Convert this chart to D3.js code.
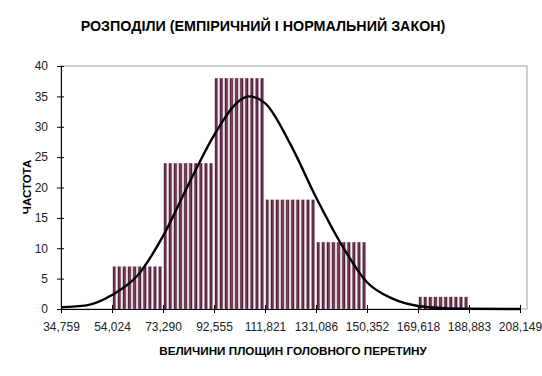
<!DOCTYPE html>
<html>
<head>
<meta charset="utf-8">
<script src="https://cdn.jsdelivr.net/npm/d3@7"></script>
<style>
  body { margin: 0; background: #fff; }
  svg { display: block; font-family: "Liberation Sans", Arial, sans-serif; }
</style>
</head>
<body>
<div id="chart"></div>
<script>
// bin edges (x axis ticks) and their printed labels
const binEdges = [34.759, 54.024, 73.290, 92.555, 111.821, 131.086, 150.352, 169.618, 188.883, 208.149];
const tickLabels = ["34,759", "54,024", "73,290", "92,555", "111,821", "131,086", "150,352", "169,618", "188,883", "208,149"];
// empirical frequencies per bin
const counts = [0, 7, 24, 38, 18, 11, 0, 2, 0];
// normal curve
const curveX = [34.759, 44.39, 54.024, 63.66, 73.29, 82.92, 92.555, 102.19, 105.6, 111.821, 121.45, 131.086, 140.72, 150.352, 159.99, 169.618, 179.25, 188.883, 208.149];
const curveY = [0.3, 0.6, 2.3, 5.5, 12, 20.5, 28.6, 34.3, 35.0, 33.9, 27.1, 18.4, 10.6, 4.4, 1.7, 0.5, 0.15, 0.05, 0];
const yTicks = [0, 5, 10, 15, 20, 25, 30, 35, 40];

const W = 542, H = 376;
const svg = d3.select("#chart").append("svg")
  .attr("width", W).attr("height", H);

let x = d3.scaleLinear().domain([binEdges[0], binEdges[binEdges.length - 1]]).range([61, 520]);
let y = d3.scaleLinear().domain([0, 40]).range([309, 66]);

// striped fill like the excel pattern
let defs = svg.append("defs");
let pat = defs.append("pattern")
  .attr("id", "stripes")
  .attr("patternUnits", "userSpaceOnUse")
  .attr("x", 61).attr("y", 0)
  .attr("width", 5.1).attr("height", 10);
pat.append("rect").attr("width", 5.1).attr("height", 10).attr("fill", "#fff");
pat.append("rect").attr("x", 0.6).attr("width", 3.1).attr("height", 10).attr("fill", "#4f1a38");
pat.append("rect").attr("x", 1.7).attr("width", 0.8).attr("height", 10).attr("fill", "#86445f");

// plot area border (gray)
svg.append("rect")
  .attr("x", x.range()[0]).attr("y", y(40))
  .attr("width", x.range()[1] - x.range()[0] + 7)
  .attr("height", y(0) - y(40))
  .attr("fill", "none").attr("stroke", "#a0a0a0").attr("stroke-width", 1);

// bars
let bins = counts.map((c, i) => ({ x0: binEdges[i], x1: binEdges[i + 1], c: c }));
svg.selectAll("rect.bar")
  .data(bins.filter(d => d.c > 0))
  .enter()
  .append("rect")
    .attr("class", "bar")
    .attr("x", d => x(d.x0) + 0.5)
    .attr("width", d => x(d.x1) - x(d.x0) - 1)
    .attr("y", d => y(d.c))
    .attr("height", d => y(0) - y(d.c))
    .attr("fill", "url(#stripes)");

// normal curve
let pts = curveX.map((v, i) => [v, curveY[i]]);
svg.append("path")
  .datum(pts)
  .attr("d", d3.line().x(d => x(d[0])).y(d => y(d[1])).curve(d3.curveMonotoneX))
  .attr("fill", "none")
  .attr("stroke", "#000")
  .attr("stroke-width", 2.4);

// axes
let xAxis = d3.axisBottom(x)
  .tickValues(binEdges)
  .tickFormat((d, i) => tickLabels[i])
  .tickSizeInner(4).tickSizeOuter(0).tickPadding(9);
let gx = svg.append("g").attr("transform", "translate(0," + y(0) + ")").call(xAxis);
gx.selectAll(".tick line").attr("y1", -4).attr("y2", 4);

let yAxis = d3.axisLeft(y)
  .tickValues(yTicks)
  .tickSizeInner(4).tickSizeOuter(0).tickPadding(9);
let gy = svg.append("g").attr("transform", "translate(" + x.range()[0] + ",0)").call(yAxis);
gy.selectAll(".tick line").attr("x1", -4).attr("x2", 3);

svg.selectAll(".domain").attr("stroke", "#000");
svg.selectAll(".tick line").attr("stroke", "#000");
svg.selectAll(".tick text")
  .attr("fill", "#222")
  .style("font-size", "12px")
  .style("font-family", "'Liberation Sans', Arial, sans-serif");

// titles
svg.append("text")
  .attr("x", 263).attr("y", 31)
  .attr("text-anchor", "middle")
  .style("font-size", "14.3px").style("font-weight", "bold")
  .text("РОЗПОДІЛИ (ЕМПІРИЧНИЙ І НОРМАЛЬНИЙ ЗАКОН)");

svg.append("text")
  .attr("x", 293).attr("y", 355)
  .attr("text-anchor", "middle")
  .style("font-size", "11.7px").style("font-weight", "bold")
  .text("ВЕЛИЧИНИ ПЛОЩИН ГОЛОВНОГО ПЕРЕТИНУ");

svg.append("text")
  .attr("transform", "translate(31,187) rotate(-90)")
  .attr("text-anchor", "middle")
  .style("font-size", "11.5px").style("font-weight", "bold")
  .text("ЧАСТОТА");
</script>
</body>
</html>
